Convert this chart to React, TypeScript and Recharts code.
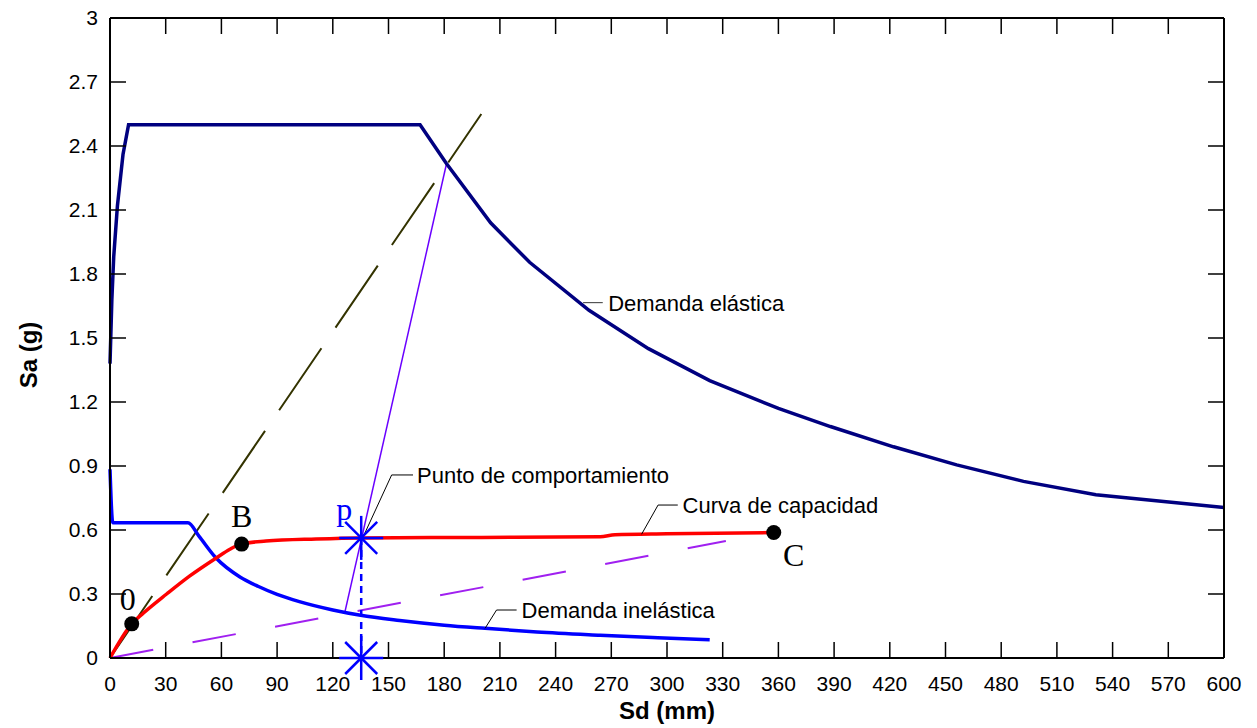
import { ComposedChart, Line, Scatter, XAxis, YAxis } from 'recharts'

const SANS = '"Liberation Sans", Arial, sans-serif'
const SERIF = '"Liberation Serif", "Times New Roman", serif'

const xTicks = [0, 30, 60, 90, 120, 150, 180, 210, 240, 270, 300, 330, 360, 390, 420, 450, 480, 510, 540, 570, 600]
const yTicks = [0, 0.3, 0.6, 0.9, 1.2, 1.5, 1.8, 2.1, 2.4, 2.7, 3]

// Sd (mm) / Sa (g)
const elasticDemand = [
  { x: 0, y: 1.38 }, { x: 1, y: 1.68 }, { x: 2, y: 1.88 }, { x: 4, y: 2.12 }, { x: 7, y: 2.36 },
  { x: 10, y: 2.5 }, { x: 167, y: 2.5 }, { x: 181, y: 2.32 }, { x: 205, y: 2.04 }, { x: 226, y: 1.855 },
  { x: 258, y: 1.63 }, { x: 290, y: 1.45 }, { x: 323, y: 1.3 }, { x: 360, y: 1.17 }, { x: 388, y: 1.085 },
  { x: 422, y: 0.99 }, { x: 456, y: 0.905 }, { x: 492, y: 0.828 }, { x: 531, y: 0.765 }, { x: 600, y: 0.706 },
]

const inelasticDemand = [
  { x: 0, y: 0.885 }, { x: 1.5, y: 0.634 }, { x: 42, y: 0.634 }, { x: 48, y: 0.57 }, { x: 57, y: 0.47 },
  { x: 70, y: 0.38 }, { x: 80, y: 0.335 }, { x: 90, y: 0.298 }, { x: 102, y: 0.264 }, { x: 120, y: 0.225 },
  { x: 135, y: 0.2 }, { x: 156, y: 0.176 }, { x: 180, y: 0.154 }, { x: 202, y: 0.139 }, { x: 230, y: 0.122 },
  { x: 264, y: 0.107 }, { x: 295, y: 0.095 }, { x: 323, y: 0.085 },
]

const capacityCurve = [
  { x: 0, y: 0 }, { x: 11.7, y: 0.16 }, { x: 17.9, y: 0.21 }, { x: 30.5, y: 0.3 }, { x: 43, y: 0.385 },
  { x: 57.4, y: 0.47 }, { x: 64.6, y: 0.51 }, { x: 71, y: 0.535 }, { x: 84, y: 0.548 }, { x: 111, y: 0.558 },
  { x: 135.3, y: 0.563 }, { x: 200, y: 0.565 }, { x: 264, y: 0.568 }, { x: 272, y: 0.578 }, { x: 300, y: 0.582 },
  { x: 357.5, y: 0.588 },
]

const initialStiffness = [{ x: 0, y: 0 }, { x: 200, y: 2.55 }]
const secantStiffness = [{ x: 0, y: 0 }, { x: 331.7, y: 0.548 }]
const demandLink = [{ x: 126.5, y: 0.215 }, { x: 181.3, y: 2.319 }]
const perfDrop = [{ x: 135.3, y: 0.563 }, { x: 135.3, y: 0 }]
const perfMarks = [{ x: 135.3, y: 0.563 }, { x: 135.3, y: 0 }]
const perfLabel = [{ x: 135.3, y: 0.563, label: 'p' }]

const keyPoints = [
  { x: 11.7, y: 0.16, label: '0' },
  { x: 70.9, y: 0.534, label: 'B' },
  { x: 357.5, y: 0.588, label: 'C' },
]

// leader lines and their texts
const elasticLeader = [{ x: 254.8, y: 1.666 }, { x: 265.4, y: 1.666 }]
const perfLeader = [{ x: 136.3, y: 0.567 }, { x: 151.7, y: 0.858 }, { x: 163.2, y: 0.858 }]
const capacityLeader = [{ x: 286.3, y: 0.58 }, { x: 295.2, y: 0.717 }, { x: 305.8, y: 0.717 }]
const inelasticLeader = [{ x: 202, y: 0.139 }, { x: 208.2, y: 0.225 }, { x: 219, y: 0.225 }]

const callouts = [
  { x: 268.3, y: 1.666, label: 'Demanda elástica' },
  { x: 165.4, y: 0.858, label: 'Punto de comportamiento' },
  { x: 308.4, y: 0.717, label: 'Curva de capacidad' },
  { x: 221.7, y: 0.225, label: 'Demanda inelástica' },
]

const LABEL_OFFSET: Record<string, [number, number]> = {
  '0': [-4, -14],
  B: [0, -17],
  C: [20, 33],
}

const tickStyle = { fill: '#000', fontSize: 21, fontFamily: SANS }
const frame = { stroke: '#000', strokeWidth: 2 }
const tickMark = { stroke: '#000', strokeWidth: 1.5 }

// mirrored axes only show the tick marks
const NoLabel = () => <g />

function KeyPoint(props: any) {
  const { cx, cy, payload } = props
  const [dx, dy] = LABEL_OFFSET[payload.label] || [0, 0]
  return (
    <g>
      <circle cx={cx} cy={cy} fill="#000" r={7.5} />
      <text fill="#000" fontFamily={SERIF} fontSize={32} textAnchor="middle" x={cx + dx} y={cy + dy}>
        {payload.label}
      </text>
    </g>
  )
}

function Asterisk(props: any) {
  const { cx, cy } = props
  return (
    <g stroke="#0000ff" strokeWidth={2.5}>
      <line x1={cx - 22} x2={cx + 22} y1={cy} y2={cy} />
      <line x1={cx} x2={cx} y1={cy - 22} y2={cy + 22} />
      <line x1={cx - 16} x2={cx + 16} y1={cy - 16} y2={cy + 16} />
      <line x1={cx - 16} x2={cx + 16} y1={cy + 16} y2={cy - 16} />
    </g>
  )
}

function PerfText(props: any) {
  const { cx, cy, payload } = props
  return (
    <text fill="#0000ff" fontFamily={SERIF} fontSize={32} textAnchor="middle" x={cx - 17} y={cy - 18}>
      {payload.label}
    </text>
  )
}

function Callout(props: any) {
  const { cx, cy, payload } = props
  return (
    <text dy="0.36em" fill="#000" fontFamily={SANS} fontSize={22} x={cx} y={cy}>
      {payload.label}
    </text>
  )
}

function XTitle(props: any) {
  const { viewBox } = props
  return (
    <text fill="#000" fontFamily={SANS} fontSize={24} fontWeight="bold" textAnchor="middle"
      x={viewBox.x + viewBox.width / 2} y={viewBox.y + 61}>
      Sd (mm)
    </text>
  )
}

function YTitle(props: any) {
  const { viewBox } = props
  const x = 29
  const y = viewBox.y + viewBox.height / 2 + 17
  return (
    <text fill="#000" fontFamily={SANS} fontSize={24} fontWeight="bold" textAnchor="middle"
      transform={`rotate(-90, ${x}, ${y})`} x={x} y={y}>
      Sa (g)
    </text>
  )
}

export default function App() {
  return (
    <div style={{ marginTop: -8 }}>
      <ComposedChart height={728} margin={{ bottom: 10, left: 0, right: 23, top: 17 }} width={1240}>
        <XAxis
          axisLine={frame}
          dataKey="x"
          domain={[0, 600]}
          height={60}
          interval={0}
          label={<XTitle />}
          tick={tickStyle}
          tickLine={tickMark}
          tickMargin={34}
          tickSize={-16}
          ticks={xTicks}
          type="number"
        />
        <XAxis
          axisLine={frame}
          dataKey="x"
          domain={[0, 600]}
          height={1}
          interval={0}
          orientation="top"
          tick={NoLabel}
          tickLine={tickMark}
          tickSize={-16}
          ticks={xTicks}
          type="number"
          xAxisId="top"
        />
        <YAxis
          axisLine={frame}
          dataKey="y"
          domain={[0, 3]}
          interval={0}
          label={<YTitle />}
          tick={tickStyle}
          tickFormatter={(v: number) => String(v)}
          tickLine={tickMark}
          tickMargin={28}
          tickSize={-16}
          ticks={yTicks}
          type="number"
          width={102}
        />
        <YAxis
          axisLine={frame}
          dataKey="y"
          domain={[0, 3]}
          interval={0}
          orientation="right"
          tick={NoLabel}
          tickLine={tickMark}
          tickSize={-16}
          ticks={yTicks}
          type="number"
          width={1}
          yAxisId="right"
        />

        {/* invisible series so the mirrored frame axes are laid out */}
        <Line data={initialStiffness} dataKey="y" dot={false} isAnimationActive={false} stroke="none"
          xAxisId="top" yAxisId="right" />

        <Line data={initialStiffness} dataKey="y" dot={false} isAnimationActive={false} stroke="#333300"
          strokeDasharray="75 25" strokeWidth={2} type="linear" />
        <Line data={secantStiffness} dataKey="y" dot={false} isAnimationActive={false} stroke="#a020f0"
          strokeDasharray="44 40" strokeWidth={2} type="linear" />
        <Line data={demandLink} dataKey="y" dot={false} isAnimationActive={false} stroke="#6a00ff"
          strokeWidth={1.5} type="linear" />
        <Line data={elasticDemand} dataKey="y" dot={false} isAnimationActive={false} stroke="#000080"
          strokeWidth={3.5} type="linear" />
        <Line data={inelasticDemand} dataKey="y" dot={false} isAnimationActive={false} stroke="#0000ff"
          strokeWidth={3.5} type="monotone" />
        <Line data={capacityCurve} dataKey="y" dot={false} isAnimationActive={false} stroke="#ff0000"
          strokeWidth={3.5} type="monotone" />
        <Line data={perfDrop} dataKey="y" dot={false} isAnimationActive={false} stroke="#0000ff"
          strokeDasharray="7 5" strokeWidth={2.5} type="linear" />

        <Line data={elasticLeader} dataKey="y" dot={false} isAnimationActive={false} stroke="#555"
          strokeWidth={1.2} type="linear" />
        <Line data={perfLeader} dataKey="y" dot={false} isAnimationActive={false} stroke="#000"
          strokeWidth={1} type="linear" />
        <Line data={capacityLeader} dataKey="y" dot={false} isAnimationActive={false} stroke="#000"
          strokeWidth={1} type="linear" />
        <Line data={inelasticLeader} dataKey="y" dot={false} isAnimationActive={false} stroke="#000"
          strokeWidth={1} type="linear" />

        <Scatter data={perfMarks} isAnimationActive={false} shape={<Asterisk />} />
        <Scatter data={perfLabel} isAnimationActive={false} shape={<PerfText />} />
        <Scatter data={keyPoints} isAnimationActive={false} shape={<KeyPoint />} />
        <Scatter data={callouts} isAnimationActive={false} shape={<Callout />} />
      </ComposedChart>
    </div>
  )
}
